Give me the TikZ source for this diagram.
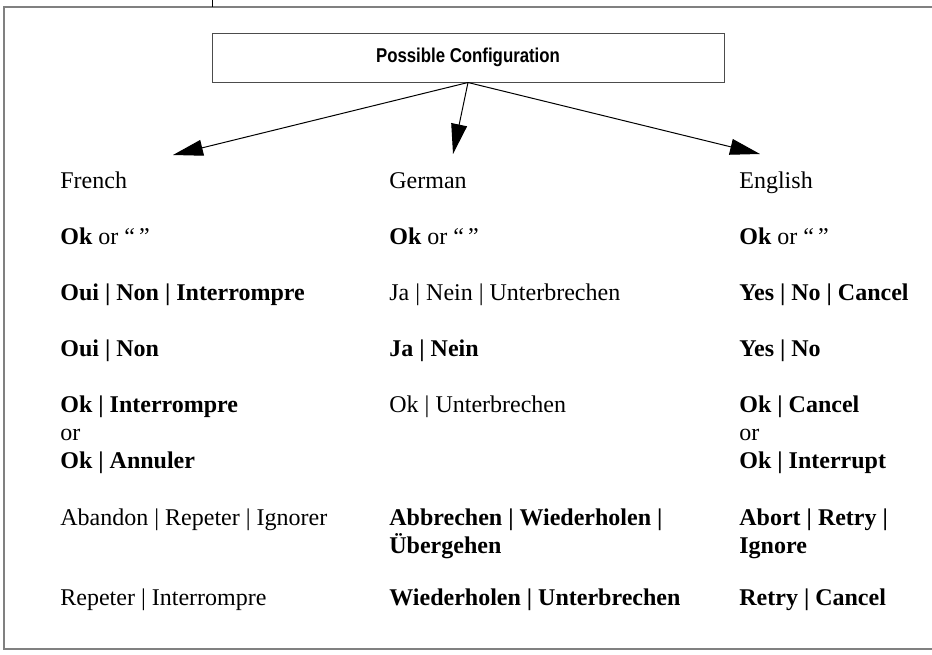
\documentclass[tikz,border=0pt]{standalone}
\usepackage{fontspec}
\setmainfont{Liberation Serif}
\newfontfamily\narrowsans[FakeStretch=0.84]{Liberation Sans}
\usetikzlibrary{arrows.meta,positioning}
\tikzset{
cfgbox/.style={draw=black!70, line width=0.5pt, minimum width=256pt, minimum height=24.5pt, inner sep=0pt, font=\narrowsans\bfseries\fontsize{10}{12}\selectfont},
cfgarrow/.style={-{Triangle[length=15pt,width=8pt]}, line width=0.5pt},
entry/.style={anchor=base west, align=left, inner sep=0pt, font=\fontsize{12}{14}\selectfont}
}

\begin{document}
\begin{tikzpicture}[x=0.5pt,y=-0.5pt]
\useasboundingbox (0,0) rectangle (932,654);
\draw[black!50, line width=1pt] (4,7) rectangle (940,649);
\draw[line width=0.5pt] (212,0) -- (212,7);

\node[cfgbox] (cfg) at (468,57.5) {Possible Configuration};

% column heads
\node[entry] (fr) at (60,188) {French};
\node[entry] (de) at (389,188) {German};
\node[entry] (en) at (739,188) {English};

\coordinate (frtip) at (173,155);
\coordinate (detip) at (453,154);
\coordinate (entip) at (760,154);
\draw[cfgarrow] (cfg.south) -- (frtip);
\draw[cfgarrow] (cfg.south) -- (detip);
\draw[cfgarrow] (cfg.south) -- (entip);

% French (multi-line nodes sit on their last baseline)
\node[entry] (fr1) at (60,244) {\textbf{Ok} or “\,”};
\node[entry] (fr2) at (60,300) {\textbf{Oui | Non | Interrompre}};
\node[entry] (fr3) at (60,356) {\textbf{Oui | Non}};
\node[entry] (fr4) at (60,468) {\textbf{Ok | Interrompre}\\or\\\textbf{Ok | Annuler}};
\node[entry] (fr5) at (60,525) {Abandon | Repeter | Ignorer};
\node[entry] (fr6) at (60,605) {Repeter | Interrompre};

% German
\node[entry] (de1) at (389,244) {\textbf{Ok} or “\,”};
\node[entry] (de2) at (389,300) {Ja | Nein | Unterbrechen};
\node[entry] (de3) at (389,356) {\textbf{Ja | Nein}};
\node[entry] (de4) at (389,412) {Ok | Unterbrechen};
\node[entry] (de5) at (389,553) {\textbf{Abbrechen | Wiederholen |}\\\textbf{Übergehen}};
\node[entry] (de6) at (389,605) {\textbf{Wiederholen | Unterbrechen}};

% English
\node[entry] (en1) at (739,244) {\textbf{Ok} or “\,”};
\node[entry] (en2) at (739,300) {\textbf{Yes | No | Cancel}};
\node[entry] (en3) at (739,356) {\textbf{Yes | No}};
\node[entry] (en4) at (739,468) {\textbf{Ok | Cancel}\\or\\\textbf{Ok | Interrupt}};
\node[entry] (en5) at (739,553) {\textbf{Abort | Retry |}\\\textbf{Ignore}};
\node[entry] (en6) at (739,605) {\textbf{Retry | Cancel}};
\end{tikzpicture}
\end{document}
